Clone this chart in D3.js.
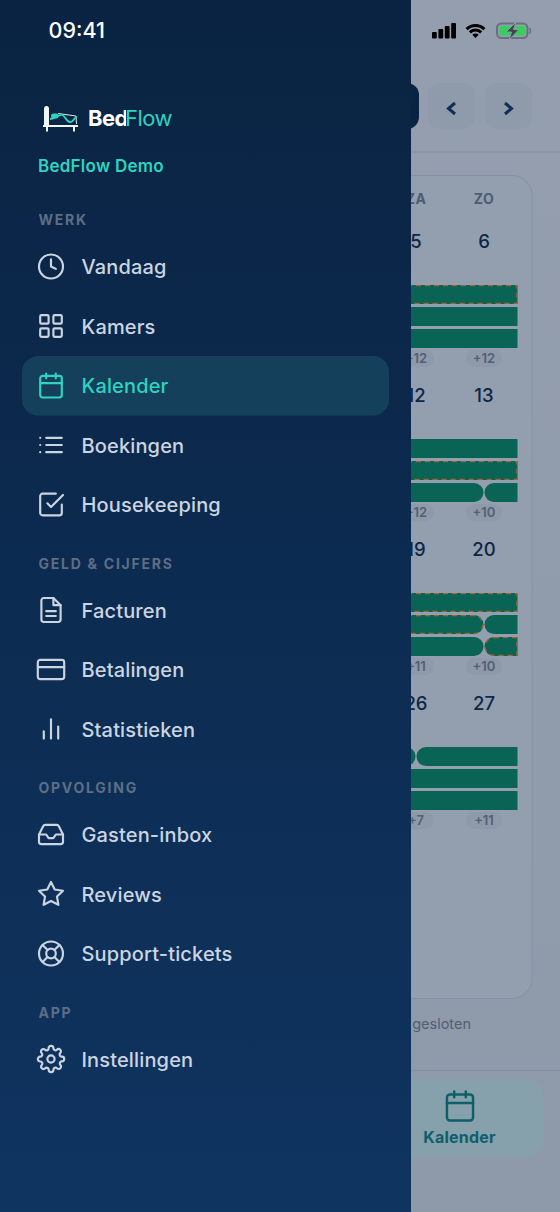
<!DOCTYPE html>
<html>
<head>
<meta charset="utf-8">
<script src="https://cdn.jsdelivr.net/npm/d3@7"></script>
<style>
  html, body { margin: 0; padding: 0; background: #8f9aaa; }
  svg { display: block; font-family: Inter, "Noto Sans", sans-serif; }
</style>
</head>
<body>
<svg id="app" width="560" height="1212" viewBox="0 0 560 1212"></svg>
<script>
// menu
const sections = ['WERK', 'GELD & CIJFERS', 'OPVOLGING', 'APP'];
const sectionItems = [
  ['Vandaag', 'Kamers', 'Kalender', 'Boekingen', 'Housekeeping'],
  ['Facturen', 'Betalingen', 'Statistieken'],
  ['Gasten-inbox', 'Reviews', 'Support-tickets'],
  ['Instellingen']
];
const sectionIcons = [
  ['clock', 'grid', 'calendar', 'list', 'check'],
  ['file', 'card', 'bars'],
  ['inbox', 'star', 'buoy'],
  ['gear']
];
const activeItem = 'Kalender';

// calendar behind the menu
const weekdays = ['ZA', 'ZO'];
const weekdayIndex = [5, 6];
const dayNumbers = [[5, 6], [12, 13], [19, 20], [26, 27]];
const moreCounts = [['+12', '+12'], ['+12', '+10'], ['+11', '+10'], ['+7', '+11']];

// bookings: week row, lane, from day, to day, unpaid (dashed)
const bookingWeek = [0, 0, 0, 1, 1, 1, 1, 2, 2, 2, 2, 2, 3, 3, 3, 3];
const bookingLane = [0, 1, 2, 0, 1, 2, 2, 0, 1, 1, 2, 2, 0, 0, 1, 2];
const bookingFrom = [3, 3, 3, 3, 3, 3, 6, 3, 3, 6, 3, 6, 3, 5, 3, 3];
const bookingTo = [6.5, 6.5, 6.5, 6.5, 6.5, 6, 6.5, 6.5, 6, 6.5, 6, 6.5, 5, 6.5, 6.5, 6.5];
const bookingDashed = [1, 0, 0, 0, 1, 0, 0, 1, 1, 0, 0, 1, 0, 0, 0, 0];

const icons = {
  clock: '<circle cx="12" cy="12" r="10"/><polyline points="12 6 12 12 16 14"/>',
  grid: '<rect x="3" y="3" width="7" height="7" rx="1"/><rect x="14" y="3" width="7" height="7" rx="1"/><rect x="14" y="14" width="7" height="7" rx="1"/><rect x="3" y="14" width="7" height="7" rx="1"/>',
  calendar: '<rect x="3" y="4" width="18" height="18" rx="2"/><path d="M16 2v4M8 2v4M3 10h18"/>',
  list: '<path d="M8 6h13M8 12h13M8 18h13M3 6h.01M3 12h.01M3 18h.01"/>',
  check: '<polyline points="9 11 12 14 22 4"/><path d="M21 12v7a2 2 0 0 1-2 2H5a2 2 0 0 1-2-2V5a2 2 0 0 1 2-2h11"/>',
  file: '<path d="M14 2H6a2 2 0 0 0-2 2v16a2 2 0 0 0 2 2h12a2 2 0 0 0 2-2V8z"/><path d="M14 2v6h6M16 13H8M16 17H8"/>',
  card: '<rect x="1" y="4" width="22" height="16" rx="2"/><path d="M1 10h22"/>',
  bars: '<path d="M18 20V10M12 20V4M6 20v-6"/>',
  inbox: '<polyline points="22 12 16 12 14 15 10 15 8 12 2 12"/><path d="M5.45 5.11 2 12v6a2 2 0 0 0 2 2h16a2 2 0 0 0 2-2v-6l-3.45-6.89A2 2 0 0 0 16.76 4H7.24a2 2 0 0 0-1.79 1.11z"/>',
  star: '<polygon points="12 2 15.09 8.26 22 9.27 17 14.14 18.18 21.02 12 17.77 5.82 21.02 7 14.14 2 9.27 8.91 8.26"/>',
  buoy: '<circle cx="12" cy="12" r="10"/><circle cx="12" cy="12" r="4"/><path d="M4.93 4.93l4.24 4.24M14.83 14.83l4.24 4.24M14.83 9.17l4.24-4.24M4.93 19.07l4.24-4.24"/>',
  gear: '<circle cx="12" cy="12" r="3"/><path d="M19.4 15a1.65 1.65 0 0 0 .33 1.82l.06.06a2 2 0 0 1 0 2.83 2 2 0 0 1-2.83 0l-.06-.06a1.65 1.65 0 0 0-1.82-.33 1.65 1.65 0 0 0-1 1.51V21a2 2 0 0 1-2 2 2 2 0 0 1-2-2v-.09A1.65 1.65 0 0 0 9 19.4a1.65 1.65 0 0 0-1.82.33l-.06.06a2 2 0 0 1-2.83 0 2 2 0 0 1 0-2.83l.06-.06a1.65 1.65 0 0 0 .33-1.82 1.65 1.65 0 0 0-1.51-1H3a2 2 0 0 1-2-2 2 2 0 0 1 2-2h.09A1.65 1.65 0 0 0 4.6 9a1.65 1.65 0 0 0-.33-1.82l-.06-.06a2 2 0 0 1 0-2.83 2 2 0 0 1 2.83 0l.06.06a1.65 1.65 0 0 0 1.82.33H9a1.65 1.65 0 0 0 1-1.51V3a2 2 0 0 1 2-2 2 2 0 0 1 2 2v.09a1.65 1.65 0 0 0 1 1.51 1.65 1.65 0 0 0 1.82-.33l.06-.06a2 2 0 0 1 2.83 0 2 2 0 0 1 0 2.83l-.06.06a1.65 1.65 0 0 0-.33 1.82V9a1.65 1.65 0 0 0 1.51 1H21a2 2 0 0 1 2 2 2 2 0 0 1-2 2h-.09a1.65 1.65 0 0 0-1.51 1z"/>'
};

const svg = d3.select('#app');
const defs = svg.append('defs');

const drawerGrad = defs.append('linearGradient').attr('id', 'drawerGrad')
  .attr('x1', 0).attr('y1', 0).attr('x2', 0).attr('y2', 1);
drawerGrad.append('stop').attr('offset', '0%').attr('stop-color', '#0a2342');
drawerGrad.append('stop').attr('offset', '100%').attr('stop-color', '#0f3460');

const pageGrad = defs.append('linearGradient').attr('id', 'pageGrad')
  .attr('x1', 0).attr('y1', 0).attr('x2', 0).attr('y2', 1);
pageGrad.append('stop').attr('offset', '0%').attr('stop-color', '#949eae');
pageGrad.append('stop').attr('offset', '100%').attr('stop-color', '#8e99a9');

defs.append('clipPath').attr('id', 'bedClip')
  .append('rect').attr('x', 80).attr('y', 100).attr('width', 46).attr('height', 40);

svg.append('rect').attr('width', 560).attr('height', 1212).attr('fill', 'url(#pageGrad)');

function drawIcon(parent, name, cx, cy, color, scale = 1.2, width = 1.8) {
  parent.append('g')
    .attr('transform', `translate(${cx - 12 * scale},${cy - 12 * scale}) scale(${scale})`)
    .attr('fill', 'none')
    .attr('stroke', color)
    .attr('stroke-width', width)
    .attr('stroke-linecap', 'round')
    .attr('stroke-linejoin', 'round')
    .html(icons[name]);
}

// ---- page behind the drawer ----
const page = svg.append('g');

page.append('rect').attr('x', 300).attr('y', 83).attr('width', 119).attr('height', 46)
  .attr('rx', 12).attr('fill', '#0a2342');
[451.5, 508.5].forEach((cx, i) => {
  page.append('rect').attr('x', cx - 23.5).attr('y', 83).attr('width', 47).attr('height', 46)
    .attr('rx', 12).attr('fill', '#8f9aaa');
  page.append('path')
    .attr('d', i === 0 ? `M${cx + 3.5},103 l-6.5,5.5 l6.5,5.5` : `M${cx - 3.5},103 l6.5,5.5 l-6.5,5.5`)
    .attr('fill', 'none').attr('stroke', '#0f2f57').attr('stroke-width', 3);
});
page.append('line').attr('x1', 300).attr('x2', 560).attr('y1', 152).attr('y2', 152)
  .attr('stroke', '#8490a2');

page.append('rect').attr('x', 200).attr('y', 175.5).attr('width', 332).attr('height', 823)
  .attr('rx', 20).attr('fill', '#939eae').attr('stroke', '#8692a3');

// day to x (column centres), week to y (date row centres)
const x = d3.scaleLinear().domain([5, 6]).range([416, 484]);
const y = d3.scaleLinear().domain([0, 3]).range([241, 703]);
const laneY = d3.scaleLinear().domain([0, 2]).range([44, 88]);
const laneHeight = 19;

page.selectAll('.weekday').data(weekdays).join('text')
  .attr('class', 'weekday')
  .attr('x', (d, i) => x(weekdayIndex[i]))
  .attr('y', 204)
  .attr('text-anchor', 'middle')
  .attr('font-size', 14).attr('font-weight', 700)
  .attr('letter-spacing', 0.4)
  .attr('fill', '#4e5c74')
  .text(d => d);

dayNumbers.forEach((week, w) => {
  const row = page.append('g');
  row.selectAll('.date').data(week).join('text')
    .attr('class', 'date')
    .attr('x', (d, i) => x(weekdayIndex[i]))
    .attr('y', y(w) + 6.5)
    .attr('text-anchor', 'middle')
    .attr('font-size', 18.5).attr('font-weight', 500)
    .attr('fill', '#0c2647')
    .text(d => d);

  row.selectAll('.pill').data(moreCounts[w]).join('rect')
    .attr('class', 'pill')
    .attr('x', (d, i) => x(weekdayIndex[i]) - 18)
    .attr('y', y(w) + 109)
    .attr('width', 36).attr('height', 17).attr('rx', 8.5)
    .attr('fill', '#8e99a9');

  row.selectAll('.more').data(moreCounts[w]).join('text')
    .attr('class', 'more')
    .attr('x', (d, i) => x(weekdayIndex[i]))
    .attr('y', y(w) + 122)
    .attr('text-anchor', 'middle')
    .attr('font-size', 13).attr('font-weight', 600)
    .attr('fill', '#545f74')
    .text(d => d);
});

// a bar is square where it runs on past the week edge, round where the stay ends
function barPath(i, inset = 0) {
  const r = 9.5 - inset;
  const x0 = x(bookingFrom[i]) + 0.5 + inset;
  const x1 = x(bookingTo[i]) - 0.5 - inset;
  const top = y(bookingWeek[i]) + laneY(bookingLane[i]) + inset;
  const bottom = top + laneHeight - inset * 2;
  const endRound = bookingTo[i] < 6.5;
  const p = d3.path();
  p.moveTo(x0 + r, top);
  if (endRound) {
    p.lineTo(x1 - r, top);
    p.arcTo(x1, top, x1, top + r, r);
    p.arcTo(x1, bottom, x1 - r, bottom, r);
  } else {
    p.lineTo(x1, top);
    p.lineTo(x1, bottom);
  }
  p.lineTo(x0 + r, bottom);
  p.arcTo(x0, bottom, x0, bottom - r, r);
  p.arcTo(x0, top, x0 + r, top, r);
  p.closePath();
  return p.toString();
}

const bookingIds = d3.range(bookingWeek.length);

page.selectAll('.booking').data(bookingIds).join('path')
  .attr('class', 'booking')
  .attr('d', i => barPath(i))
  .attr('fill', '#0a6455');

page.selectAll('.unpaid').data(bookingIds.filter(i => bookingDashed[i])).join('path')
  .attr('class', 'unpaid')
  .attr('d', i => barPath(i, 0.6))
  .attr('fill', 'none')
  .attr('stroke', '#a8622c')
  .attr('stroke-width', 1.2)
  .attr('stroke-dasharray', '5 4');

page.append('text').attr('x', 471).attr('y', 1029)
  .attr('text-anchor', 'end').attr('font-size', 14.5).attr('fill', '#525e73')
  .text('gesloten');

page.append('line').attr('x1', 300).attr('x2', 560).attr('y1', 1070.5).attr('y2', 1070.5)
  .attr('stroke', '#8490a2');
page.append('rect').attr('x', 300).attr('y', 1079).attr('width', 244).attr('height', 78)
  .attr('rx', 18).attr('fill', '#86a0ac');
drawIcon(page, 'calendar', 460, 1106, '#0f5f69', 1.45, 1.7);
page.append('text').attr('x', 459.5).attr('y', 1143)
  .attr('text-anchor', 'middle').attr('font-size', 16).attr('font-weight', 700)
  .attr('letter-spacing', 0.2)
  .attr('fill', '#0f5f69').text(activeItem);

// status bar icons
const status = svg.append('g');
d3.range(4).forEach(i => {
  status.append('rect').attr('x', 432 + i * 6.4).attr('y', 32 - i * 3)
    .attr('width', 4.8).attr('height', 6.5 + i * 3).attr('rx', 1).attr('fill', '#000');
});
[11, 6.5].forEach(r => {
  status.append('path')
    .attr('d', d3.arc().innerRadius(r).outerRadius(r + 3)
      .startAngle(-Math.PI / 4).endAngle(Math.PI / 4)())
    .attr('transform', 'translate(475.5,38)').attr('fill', '#000');
});
status.append('path').attr('d', d3.arc().innerRadius(0).outerRadius(4.5)
  .startAngle(-Math.PI / 4).endAngle(Math.PI / 4)())
  .attr('transform', 'translate(475.5,38)').attr('fill', '#000');
status.append('rect').attr('x', 497).attr('y', 23.5).attr('width', 30.5).attr('height', 14.5)
  .attr('rx', 4.5).attr('fill', 'none').attr('stroke', '#6a7079').attr('stroke-width', 2);
status.append('rect').attr('x', 499.5).attr('y', 26).attr('width', 25.5).attr('height', 9.5)
  .attr('rx', 2).attr('fill', '#35cf5c');
status.append('path').attr('d', 'M529.8,28 q1.4,2.8 0,5.6').attr('fill', 'none')
  .attr('stroke', '#6a7079').attr('stroke-width', 1.6);
status.append('path').attr('d', 'M516,22 L506,32 L511.5,32 L509,40 L519,29.5 L513.5,29.5 Z')
  .attr('fill', '#3f4652').attr('stroke', '#8f9aaa').attr('stroke-width', 1);

// ---- drawer ----
const drawer = svg.append('g');
drawer.append('rect').attr('width', 411).attr('height', 1212).attr('fill', 'url(#drawerGrad)');

drawer.append('text').attr('x', 48.5).attr('y', 38)
  .attr('font-size', 21.5).attr('font-weight', 500).attr('fill', '#fff').text('09:41');

// logo
const logo = drawer.append('g');
logo.append('rect').attr('x', 44).attr('y', 106).attr('width', 5).attr('height', 21).attr('rx', 2.5).attr('fill', '#f2f6f8');
logo.append('rect').attr('x', 43).attr('y', 125).attr('width', 35).attr('height', 2).attr('fill', '#f2f6f8');
logo.append('rect').attr('x', 46).attr('y', 127).attr('width', 2).attr('height', 4.5).attr('fill', '#f2f6f8');
logo.append('rect').attr('x', 73).attr('y', 127).attr('width', 2).attr('height', 4.5).attr('fill', '#f2f6f8');
logo.append('path').attr('d', 'M58,113.5 L76,116 L76.5,124')
  .attr('fill', 'none').attr('stroke', '#dfe8ee').attr('stroke-width', 1);
logo.append('rect').attr('x', 51).attr('y', 113.5).attr('width', 7.5).attr('height', 5).attr('rx', 2.5).attr('fill', '#2dd4bf');
logo.append('path').attr('d', 'M50,119 C56,119 58,114 62,115 C66,116 66,123 71,122 C74,121 74,118 77,116.5')
  .attr('fill', 'none').attr('stroke', '#2dd4bf').attr('stroke-width', 1.8);

logo.append('text').attr('x', 88).attr('y', 126).attr('clip-path', 'url(#bedClip)')
  .attr('font-size', 22).attr('font-weight', 700).attr('letter-spacing', -0.6)
  .attr('fill', '#fff').text('Bed');
logo.append('text').attr('x', 125).attr('y', 126)
  .attr('font-size', 22).attr('font-weight', 400).attr('letter-spacing', -0.5)
  .attr('fill', '#2dd4bf').text('Flow');

drawer.append('text').attr('x', 38).attr('y', 172)
  .attr('font-size', 17).attr('font-weight', 600).attr('letter-spacing', 0.25)
  .attr('fill', '#2dd4bf').text('BedFlow Demo');

// menu rows, placed by walking down the sections
const itemStep = 59.5;
let cursor = 220;
sections.forEach((section, s) => {
  drawer.append('text').attr('x', 38.5).attr('y', cursor + 5)
    .attr('font-size', 14).attr('font-weight', 700).attr('letter-spacing', 1.75)
    .attr('fill', '#5d6e86').text(section);

  cursor += 46.5;
  sectionItems[s].forEach((item, i) => {
    const active = item === activeItem;
    if (active) {
      drawer.append('rect').attr('x', 22).attr('y', cursor - 29.5)
        .attr('width', 367).attr('height', 59.5).attr('rx', 16).attr('fill', '#15405c');
    }
    drawIcon(drawer, sectionIcons[s][i], 51, cursor, active ? '#2dd4bf' : '#cbd5e1');
    drawer.append('text').attr('x', 81.5).attr('y', cursor + 7.5)
      .attr('font-size', 20).attr('font-weight', 500).attr('letter-spacing', 0.15)
      .attr('fill', active ? '#2dd4bf' : '#cbd5e1').text(item);
    cursor += i < sectionItems[s].length - 1 ? itemStep : 59;
  });
});
</script>
</body>
</html>
